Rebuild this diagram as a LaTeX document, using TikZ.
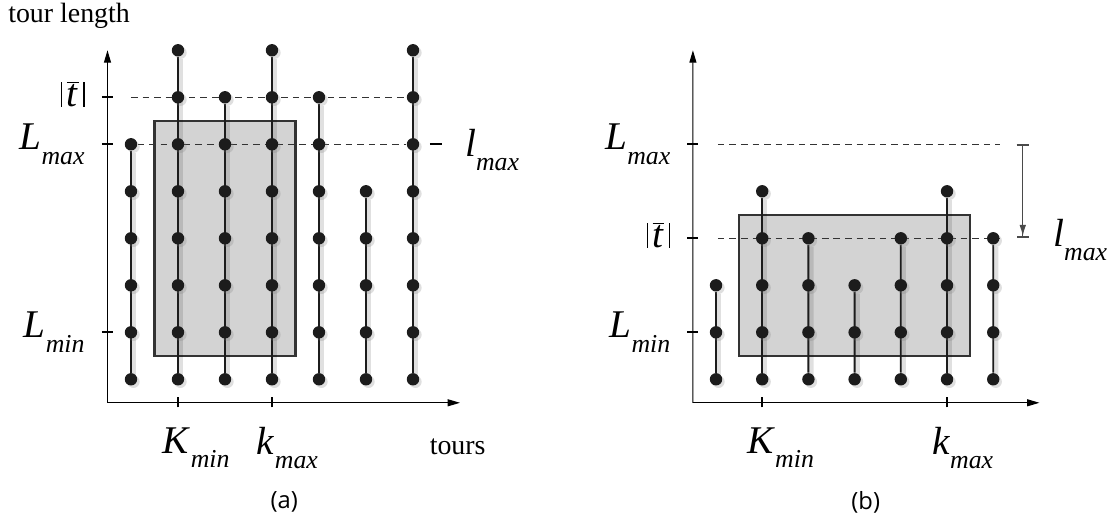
\documentclass[tikz,border=0pt]{standalone}
\usepackage{fontspec}
\setmainfont{Liberation Serif}
\newfontfamily\capfont{Open Sans}
\usepackage{tikz}
\usetikzlibrary{arrows.meta,shadows}
\definecolor{dotblack}{HTML}{1C1C1C}
\definecolor{boxgray}{HTML}{D3D3D3}
\definecolor{edgegray}{HTML}{333333}
\definecolor{gaugegray}{HTML}{4A4A4A}
\pgfdeclarelayer{back}
\pgfsetlayers{back,main}
\newcommand{\sublbl}[2]{\textit{#1}\raisebox{-7pt}{\fontsize{12.5}{14}\selectfont\textit{#2}}}
\newcommand{\tbar}{\rule{0.7pt}{12pt}\kern2.2pt$\overline{\hbox{\textit{t}}}$\kern2.2pt\rule{0.7pt}{12pt}}

\begin{document}
\begin{tikzpicture}[x=0.8cm,y=0.8cm,
    tourdot/.style={circle,fill=dotblack,inner sep=0pt,minimum size=6pt,
        drop shadow={opacity=0.25,shadow xshift=1.2pt,shadow yshift=-1.2pt}},
    tourline/.style={dotblack,preaction={draw=black,draw opacity=0.12,line width=2.6pt,
        transform canvas={xshift=1.2pt,yshift=-1pt}}},
    axisline/.style={line width=0.5pt,-{Triangle[length=6pt,width=3.4pt]}},
    axtick/.style={line width=1pt},
    limitline/.style={edgegray,line width=0.5pt,dash pattern=on 3.2pt off 2.4pt},
    optbox/.style={fill=boxgray,draw=edgegray,line width=1pt},
    gauge/.style={gaugegray,line width=0.6pt,
        {Bar[width=6pt,line width=1pt]}-{Latex[length=5.5pt,width=3.2pt] Bar[width=6pt,line width=1pt]}},
    symlbl/.style={font=\fontsize{19}{22}\selectfont,inner sep=0pt},
    plainlbl/.style={font=\fontsize{13.5}{16}\selectfont,inner sep=0pt},
    caplbl/.style={font=\capfont\fontsize{11.5}{13}\selectfont,inner sep=0pt}]
    \useasboundingbox (-1.787,-1.972) rectangle (21.851,9.070);

    \begin{pgfonlayer}{back}
        \draw[optbox] (1.5,1.5) rectangle (4.5,6.5);
    \end{pgfonlayer}
    \foreach \c/\t/\w in {1/6/0.9,2/8/0.9,3/7/0.9,4/8/0.9,5/7/0.9,6/5/0.5,7/8/0.9} {
        \foreach \r in {1,...,\t}
            \node[tourdot] (a-\c-\r) at (\c,\r) {};
        \begin{pgfonlayer}{back}
            \draw[tourline,line width=\w pt] (a-\c-1) -- (a-\c-\t);
        \end{pgfonlayer}
    }
    \coordinate (a-tstart) at (1,7);
    \begin{pgfonlayer}{back}
        \draw[limitline] (a-tstart) -- (a-7-7);
        \draw[limitline] (a-1-6) -- (a-7-6);
    \end{pgfonlayer}
    \coordinate (a-o) at (0.5,0.5);
    \draw[axisline] (a-o) -- (8,0.5);
    \draw[axisline] (a-o) -- (0.5,8);
    \foreach \r in {2,6,7}
        \draw[axtick] (0.38,\r) -- (0.62,\r);
    \foreach \c in {2,4}
        \draw[axtick] (\c,0.4) -- (\c,0.62);
    \draw[axtick] (7.36,6) -- (7.62,6);
    \node[plainlbl,anchor=base west] (a-ylbl) at (-1.62,8.6) {tour length};
    \node[plainlbl,anchor=base] (a-xlbl) at (7.95,-0.61) {tours};
    \node[symlbl,anchor=east] (a-tmean) at (0.02,7.07) {\tbar};
    \node[symlbl,anchor=east] (a-Lmax) at (0.02,6) {\sublbl{L}{max}};
    \node[symlbl,anchor=east] (a-Lmin) at (0.02,2) {\sublbl{L}{min}};
    \node[symlbl,anchor=west] (a-lmax) at (8.1,5.88) {\sublbl{l}{max}};
    \node[symlbl,anchor=west] (a-Kmin) at (1.67,-0.46) {\sublbl{K}{min}};
    \node[symlbl,anchor=west] (a-kmax) at (3.67,-0.46) {\sublbl{k}{max}};
    \node[caplbl] (a-cap) at (4.26,-1.61) {(a)};

    \begin{scope}[shift={(12.464,0)},xscale=0.983]
        \begin{pgfonlayer}{back}
            \draw[optbox] (1.5,1.5) rectangle (6.5,4.5);
        \end{pgfonlayer}
        \foreach \c/\t in {1/3,2/5,3/4,4/3,5/4,6/5,7/4} {
            \foreach \r in {1,...,\t}
                \node[tourdot] (b-\c-\r) at (\c,\r) {};
            \begin{pgfonlayer}{back}
                \draw[tourline,line width=0.9pt] (b-\c-1) -- (b-\c-\t);
            \end{pgfonlayer}
        }
        \coordinate (b-Lmaxl) at (1.04,6);
        \coordinate (b-Lmaxr) at (7.15,6);
        \coordinate (b-tl) at (1.04,4);
        \coordinate (b-tr) at (7.15,4);
        \begin{pgfonlayer}{back}
            \draw[limitline] (b-Lmaxl) -- (b-Lmaxr);
            \draw[limitline] (b-tl) -- (b-tr);
        \end{pgfonlayer}
        \coordinate (b-gtop) at (7.64,6);
        \coordinate (b-gbot) at (7.64,4);
        \draw[gauge] (b-gtop) -- (b-gbot);
        \coordinate (b-o) at (0.5,0.5);
        \draw[axisline] (b-o) -- (8,0.5);
        \draw[axisline] (b-o) -- (0.5,8);
        \foreach \r in {2,4,6}
            \draw[axtick] (0.38,\r) -- (0.62,\r);
        \foreach \c in {2,6}
            \draw[axtick] (\c,0.4) -- (\c,0.62);
        \node[symlbl,anchor=east] (b-Lmax) at (0.02,6) {\sublbl{L}{max}};
        \node[symlbl,anchor=east] (b-tmean) at (0.02,4.07) {\tbar};
        \node[symlbl,anchor=east] (b-Lmin) at (0.02,2) {\sublbl{L}{min}};
        \node[symlbl,anchor=west] (b-lmax) at (8.29,3.96) {\sublbl{l}{max}};
        \node[symlbl,anchor=west] (b-Kmin) at (1.67,-0.46) {\sublbl{K}{min}};
        \node[symlbl,anchor=west] (b-kmax) at (5.67,-0.46) {\sublbl{k}{max}};
        \node[caplbl] (b-cap) at (4.24,-1.61) {(b)};
    \end{scope}
\end{tikzpicture}
\end{document}
